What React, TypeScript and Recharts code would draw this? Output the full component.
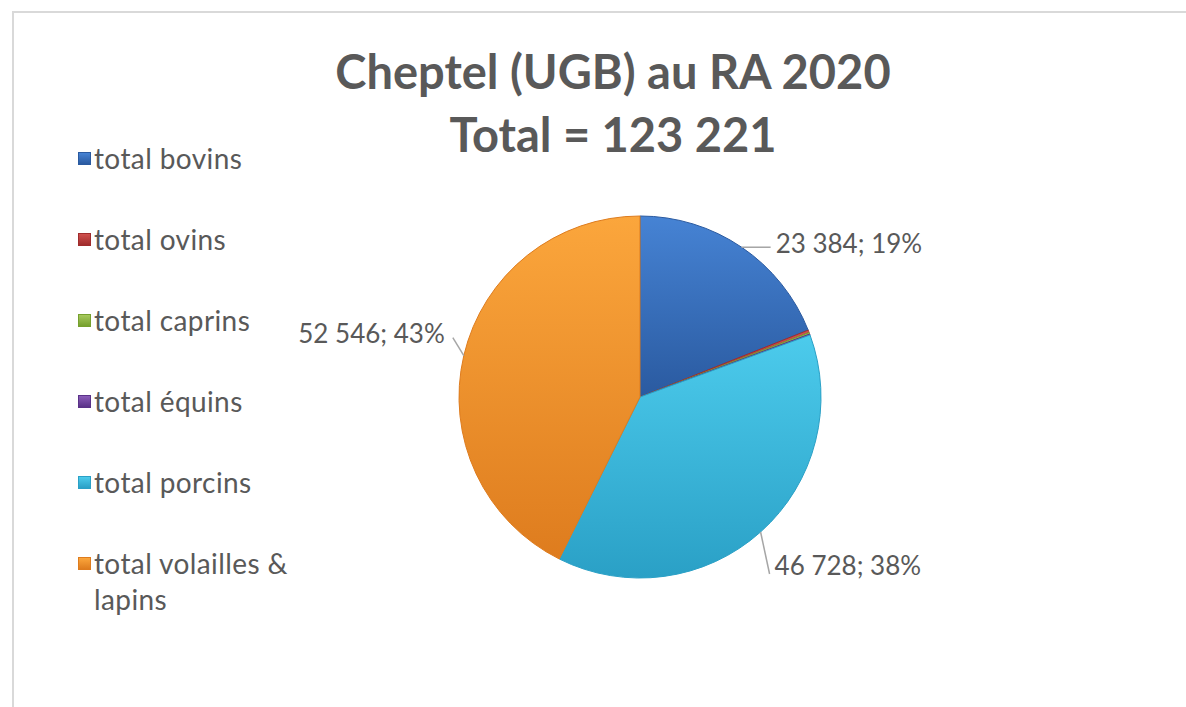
import React from "react";
import { PieChart, Pie, Cell } from "recharts";

const categories = [
  "total bovins",
  "total ovins",
  "total caprins",
  "total équins",
  "total porcins",
  "total volailles & lapins",
];
const ugb = [23384, 290, 160, 113, 46728, 52546];
const total = 123221;

// light / dark pairs for the bevel look
const lightColors = ["#4683d4", "#d0504d", "#a6c95c", "#8a5cb8", "#4ccbec", "#fba63c"];
const darkColors = ["#2a5aa0", "#a02c2c", "#76a02e", "#5a3288", "#2aa0c6", "#de7c1e"];

const data = categories.map((name, i) => ({ name, value: ugb[i] }));

const FONT = "Lato, 'Open Sans', sans-serif";
const RADIAN = Math.PI / 180;

const fmt = (v: number) => String(v).replace(/\B(?=(\d{3})+(?!\d))/g, " ");

const renderLabel = (props: any) => {
  const { cx, cy, midAngle, outerRadius, value, percent } = props;
  if (percent < 0.05) return null;
  const ex = cx + outerRadius * Math.cos(-midAngle * RADIAN);
  const ey = cy + outerRadius * Math.sin(-midAngle * RADIAN);
  const a = (((90 - midAngle) % 360) + 360) % 360; // clockwise from top
  let x2 = ex, y2 = ey, tx = ex, ty = ey, anchor = "start";
  if (a < 90) {
    x2 = ex + 29; y2 = ey; tx = ex + 34; ty = ey - 4;
  } else if (a < 180) {
    x2 = ex + 9; y2 = ey + 42; tx = ex + 14; ty = ey + 33;
  } else {
    x2 = ex - 11; y2 = ey - 18; tx = ex - 19; ty = ey - 23; anchor = "end";
  }
  return (
    <g>
      <line x1={ex} y1={ey} x2={x2} y2={y2} stroke="#a6a6a6" strokeWidth={1.5} />
      <text
        x={tx}
        y={ty}
        textAnchor={anchor}
        dominantBaseline="central"
        fill="#595959"
        fontSize={26}
        fontFamily={FONT}
      >
        {`${fmt(value)}; ${Math.round(percent * 100)}%`}
      </text>
    </g>
  );
};

const LegendBox = () => (
  <div
    style={{
      position: "absolute",
      left: 78,
      top: 140,
      fontFamily: FONT,
      fontSize: 28,
      letterSpacing: 0.4,
      color: "#595959",
    }}
  >
    {categories.map((c, i) => (
      <div key={c} style={{ display: "flex", alignItems: "flex-start", height: i === categories.length - 1 ? "auto" : 81 }}>
        <span
          style={{
            display: "inline-block",
            flex: "none",
            width: 13,
            height: 13,
            marginTop: 12,
            marginRight: 3,
            background: `linear-gradient(180deg, ${lightColors[i]} 0%, ${darkColors[i]} 100%)`,
            border: `1px solid ${darkColors[i]}`,
            boxSizing: "border-box",
          }}
        />
        <span style={{ width: 212, lineHeight: "36px" }}>{c}</span>
      </div>
    ))}
  </div>
);

export default function App() {
  return (
    <div style={{ position: "absolute", left: 0, top: 0, width: 1186, height: 707, overflow: "hidden", background: "#fff" }}>
      <div
        style={{
          position: "absolute",
          left: 12,
          top: 11,
          width: 1300,
          height: 800,
          borderTop: "2px solid #d9d9d9",
          borderLeft: "2px solid #d9d9d9",
        }}
      />
      <div
        style={{
          position: "absolute",
          left: 263,
          top: 40,
          width: 700,
          textAlign: "center",
          fontFamily: FONT,
          fontWeight: 700,
          fontSize: 47,
          lineHeight: "63px",
          color: "#595959",
        }}
      >
        Cheptel (UGB) au RA 2020
        <br />
        Total = {fmt(total)}
      </div>
      <LegendBox />
      <PieChart width={1186} height={707} style={{ position: "absolute", left: 0, top: 0 }}>
        <defs>
          {categories.map((c, i) => (
            <linearGradient key={c} id={`g${i}`} x1="0" y1="0" x2="0" y2="1">
              <stop offset="0%" stopColor={lightColors[i]} />
              <stop offset="100%" stopColor={darkColors[i]} />
            </linearGradient>
          ))}
        </defs>
        <Pie
          data={data}
          dataKey="value"
          nameKey="name"
          cx={635}
          cy={392}
          outerRadius={181}
          startAngle={90}
          endAngle={-270}
          labelLine={false}
          label={renderLabel}
          isAnimationActive={false}
        >
          {data.map((d, i) => (
            <Cell key={d.name} fill={`url(#g${i})`} stroke={darkColors[i]} strokeWidth={1} />
          ))}
        </Pie>
      </PieChart>
    </div>
  );
}
